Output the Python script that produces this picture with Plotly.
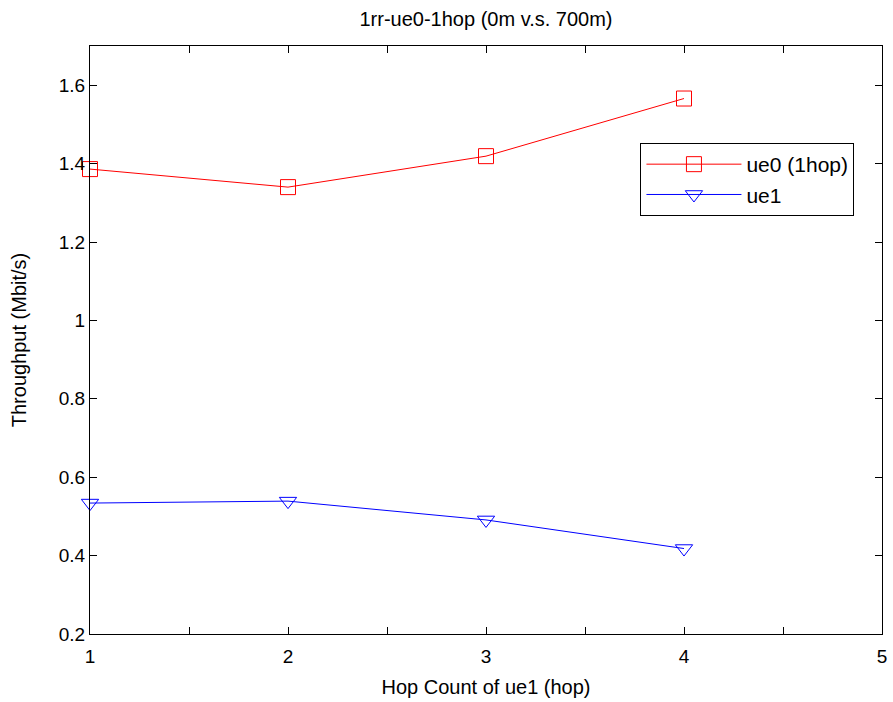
import plotly.graph_objects as go

# Throughput per station versus the hop count of ue1
hop_count = [1, 2, 3, 4]
ue0_throughput = [1.386, 1.340, 1.419, 1.566]
ue1_throughput = [0.534, 0.539, 0.491, 0.418]

x_ticks = [1, 1.5, 2, 2.5, 3, 3.5, 4, 4.5, 5]
x_labels = ["1", "", "2", "", "3", "", "4", "", "5"]
y_ticks = [0.2, 0.4, 0.6, 0.8, 1.0, 1.2, 1.4, 1.6]
y_labels = ["0.2", "0.4", "0.6", "0.8", "1", "1.2", "1.4", "1.6"]

FONT = "Liberation Sans, Arial, sans-serif"

fig = go.Figure()
fig.add_trace(go.Scatter(
    x=hop_count, y=ue0_throughput, name="ue0 (1hop)",
    mode="lines+markers", cliponaxis=False,
    line=dict(color="#ff0000", width=1),
    marker=dict(symbol="square-open", size=15, color="#ff0000",
                line=dict(width=1)),
))
fig.add_trace(go.Scatter(
    x=hop_count, y=ue1_throughput, name="ue1",
    mode="lines+markers", cliponaxis=False,
    line=dict(color="#0000ff", width=1),
    marker=dict(symbol="triangle-down-open", size=15, color="#0000ff",
                line=dict(width=1)),
))

axis_common = dict(
    showline=True, linecolor="black", linewidth=1,
    mirror="ticks", ticks="inside", ticklen=7, tickcolor="black",
    showgrid=False, zeroline=False, automargin=False,
    tickfont=dict(family=FONT, size=19, color="black"),
)

fig.update_layout(
    width=893, height=702,
    margin=dict(l=90, r=11, t=46, b=68),
    paper_bgcolor="white", plot_bgcolor="white",
    title=dict(text="1rr-ue0-1hop (0m v.s. 700m)",
               font=dict(family=FONT, size=20, color="black"),
               x=(90 + 882) / 2 / 893, xanchor="center",
               y=1 - 19 / 702, yanchor="middle"),
    xaxis=dict(range=[1, 5], tickvals=x_ticks, ticktext=x_labels,
               ticklabelstandoff=5,
               title=dict(text="Hop Count of ue1 (hop)", standoff=14,
                          font=dict(family=FONT, size=20, color="black")),
               **axis_common),
    yaxis=dict(range=[0.2, 1.7], tickvals=y_ticks, ticktext=y_labels,
               title=dict(text="Throughput (Mbit/s)", standoff=26,
                          font=dict(family=FONT, size=20, color="black")),
               **axis_common),
    legend=dict(x=0.695, y=0.835, xanchor="left", yanchor="top",
                bgcolor="white", bordercolor="black", borderwidth=1,
                font=dict(family=FONT, size=21, color="black"),
                itemwidth=95, tracegroupgap=4),
    showlegend=True,
)

fig.write_html("out.html")
